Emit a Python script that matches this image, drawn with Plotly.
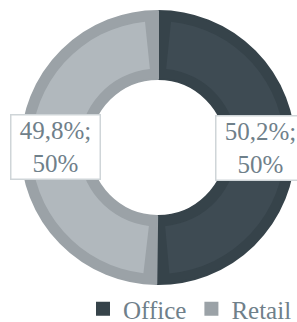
import math
import plotly.graph_objects as go

# ---- data ----
categories = ["Office", "Retail"]
shares = [50.2, 49.8]            # percent share (first figure in each label)
second_values = ["50%", "50%"]    # second figure in each label
share_labels = ["50,2%", "49,8%"]

# ---- style ----
dark_colors = ["#36434a", "#9ba2a7"]
light_colors = ["#3e4b53", "#b1b8bd"]
text_color = "#6f808a"
font_family = "Liberation Serif"

W, H = 297, 322
ML, MR, MT, MB = 21, 2, 11, 38
PW, PH = W - ML - MR, H - MT - MB
R_OUT = min(PW, PH) / 2
CX, CY = ML + PW / 2, MT + PH / 2
R_HOLE = 68.5
BAND = 10
GAP_DEG = 5.9  # half gap angle at the dividers for the inner lighter fill

fig = go.Figure()

# outer (border-coloured) ring
fig.add_trace(go.Pie(
    labels=categories, values=shares, sort=False, direction="clockwise",
    rotation=0, hole=R_HOLE / R_OUT,
    marker=dict(colors=dark_colors, line=dict(width=2, color=dark_colors)),
    textinfo="none", hoverinfo="label+percent", showlegend=True,
    domain=dict(x=[0, 1], y=[0, 1]),
))

# inner lighter fill, inset from every edge
g = GAP_DEG / 360 * 100
light_vals = [g, shares[0] - 2 * g, 2 * g, shares[1] - 2 * g, g]
light_cols = ["rgba(0,0,0,0)", light_colors[0], "rgba(0,0,0,0)", light_colors[1], "rgba(0,0,0,0)"]
r_light = R_OUT - BAND
fig.add_trace(go.Pie(
    labels=["g1", categories[0] + " ", "g2", categories[1] + " ", "g3"],
    values=light_vals, sort=False, direction="clockwise", rotation=0,
    hole=(R_HOLE + BAND + 0.5) / r_light,
    marker=dict(colors=light_cols, line=dict(width=0)),
    textinfo="none", hoverinfo="skip", showlegend=False,
    domain=dict(x=[BAND / PW, 1 - BAND / PW], y=[BAND / PH, 1 - BAND / PH]),
))

# labels at the middle of each slice
annotations = []
cum = 0
R_LAB = (R_OUT + R_HOLE) / 2
for i, v in enumerate(shares):
    mid = cum + v / 2
    cum += v
    ang = math.radians(90 - 360 * mid / 100)
    px = CX + R_LAB * math.cos(ang)
    py = CY - R_LAB * math.sin(ang)
    annotations.append(dict(
        x=(px - ML) / PW, y=1 - (py - MT) / PH, xref="paper", yref="paper",
        text=f"{share_labels[i]};<br>{second_values[i]}", showarrow=False,
        font=dict(family=font_family, size=25, color=text_color),
        bgcolor="white", bordercolor="#cfd5d8", borderwidth=1.5, borderpad=1,
        width=86, height=61, align="center", xanchor="center", yanchor="middle",
    ))

fig.update_layout(
    width=W, height=H,
    margin=dict(l=ML, r=MR, t=MT, b=MB, autoexpand=False),
    paper_bgcolor="white", plot_bgcolor="white",
    annotations=annotations,
    legend=dict(
        orientation="h", xref="container", yref="container",
        x=1, xanchor="right", y=1 - 309 / H, yanchor="middle",
        font=dict(family=font_family, size=25, color=text_color),
        itemwidth=30, tracegroupgap=0,
    ),
)

fig.write_html(
    "out.html",
    config={"displayModeBar": False},
    post_script="document.body.style.margin='0';document.body.style.overflow='hidden';",
)
